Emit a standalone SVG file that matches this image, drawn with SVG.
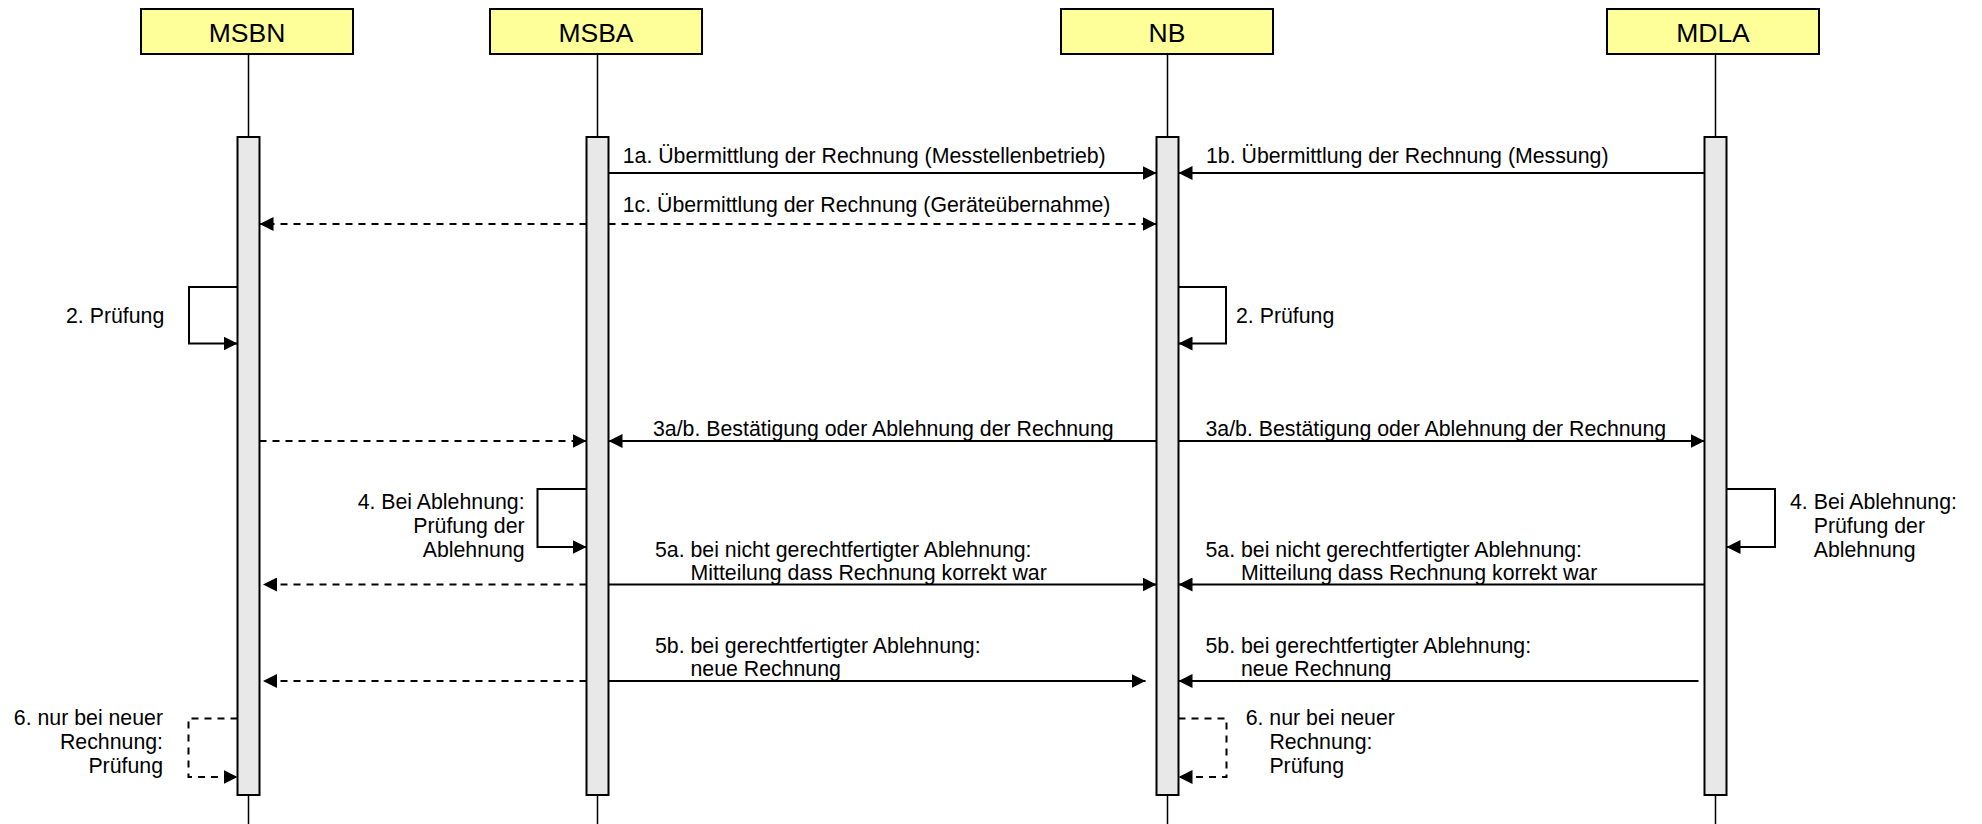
<svg xmlns="http://www.w3.org/2000/svg" width="1982" height="824" viewBox="0 0 1982 824">
<defs>
<marker id="ah" markerUnits="userSpaceOnUse" markerWidth="15" markerHeight="14" refX="14" refY="7" orient="auto">
<path d="M0,0 L14,7 L0,14 z" fill="#000"/>
</marker>
<style>
.box{fill:#ffff99;stroke:#000;stroke-width:2}
.bar{fill:#e8e8e8;stroke:#000;stroke-width:2}
.life{stroke:#000;stroke-width:1.5;fill:none}
.msg{stroke:#000;stroke-width:2;fill:none;marker-end:url(#ah)}
.dash{stroke-dasharray:7,6}
.title{font-family:"Liberation Sans",Arial,sans-serif;font-size:26.5px;text-anchor:middle;fill:#000}
.lbl{font-family:"Liberation Sans",Arial,sans-serif;font-size:21.3px;fill:#000}
.r{text-anchor:end}
</style>
</defs>
<rect width="1982" height="824" fill="#fff"/>

<g id="MSBN">
<line class="life" x1="248.5" y1="54" x2="248.5" y2="824"/>
<rect class="box" x="141" y="9" width="212" height="45"/>
<text class="title" x="247" y="42">MSBN</text>
<rect class="bar" x="237.5" y="137" width="22" height="658"/>
</g>
<g id="MSBA">
<line class="life" x1="597.5" y1="54" x2="597.5" y2="824"/>
<rect class="box" x="490" y="9" width="212" height="45"/>
<text class="title" x="596" y="42">MSBA</text>
<rect class="bar" x="586.5" y="137" width="22" height="658"/>
</g>
<g id="NB">
<line class="life" x1="1167.5" y1="54" x2="1167.5" y2="824"/>
<rect class="box" x="1061" y="9" width="212" height="45"/>
<text class="title" x="1167" y="42">NB</text>
<rect class="bar" x="1156.5" y="137" width="22" height="658"/>
</g>
<g id="MDLA">
<line class="life" x1="1715.5" y1="54" x2="1715.5" y2="824"/>
<rect class="box" x="1607" y="9" width="212" height="45"/>
<text class="title" x="1713" y="42">MDLA</text>
<rect class="bar" x="1704.5" y="137" width="22" height="658"/>
</g>

<g id="connectors">
<line class="msg" x1="608.5" y1="173" x2="1156.5" y2="173"/>
<line class="msg" x1="1704.5" y1="173" x2="1178.5" y2="173"/>
<line class="msg dash" x1="586.5" y1="224" x2="259.5" y2="224"/>
<line class="msg dash" x1="608.5" y1="224" x2="1156.5" y2="224"/>
<polyline class="msg" points="237.5,287 189,287 189,343.5 237.5,343.5"/>
<polyline class="msg" points="1178.5,287 1226,287 1226,343.5 1178.5,343.5"/>
<line class="msg dash" x1="259.5" y1="441" x2="586.5" y2="441"/>
<line class="msg" x1="1156.5" y1="441" x2="608.5" y2="441"/>
<line class="msg" x1="1178.5" y1="441" x2="1704.5" y2="441"/>
<polyline class="msg" points="586.5,489 537.5,489 537.5,547 586.5,547"/>
<polyline class="msg" points="1726.5,489 1775,489 1775,547 1726.5,547"/>
<line class="msg dash" x1="586.5" y1="584.5" x2="263" y2="584.5"/>
<line class="msg" x1="608.5" y1="584.5" x2="1156.5" y2="584.5"/>
<line class="msg" x1="1704.5" y1="584.5" x2="1178.5" y2="584.5"/>
<line class="msg dash" x1="586.5" y1="681" x2="263" y2="681"/>
<line class="msg" x1="608.5" y1="681" x2="1145.5" y2="681"/>
<line class="msg" x1="1698.5" y1="681" x2="1178.5" y2="681"/>
<polyline class="msg dash" points="237.5,718.5 188.5,718.5 188.5,777 237.5,777"/>
<polyline class="msg dash" points="1178.5,718.5 1226.5,718.5 1226.5,777 1178.5,777"/>
</g>

<g id="labels">
<text class="lbl" x="622.7" y="163">1a. Übermittlung der Rechnung (Messtellenbetrieb)</text>
<text class="lbl" x="1206" y="163">1b. Übermittlung der Rechnung (Messung)</text>
<text class="lbl" x="622.7" y="212">1c. Übermittlung der Rechnung (Geräteübernahme)</text>
<text class="lbl r" x="164.3" y="323">2. Prüfung</text>
<text class="lbl" x="1236" y="323">2. Prüfung</text>
<text class="lbl" x="653" y="436">3a/b. Bestätigung oder Ablehnung der Rechnung</text>
<text class="lbl" x="1205.5" y="436">3a/b. Bestätigung oder Ablehnung der Rechnung</text>
<text class="lbl r" x="524.6" y="509">4. Bei Ablehnung:</text>
<text class="lbl r" x="524.6" y="533">Prüfung der</text>
<text class="lbl r" x="524.6" y="557">Ablehnung</text>
<text class="lbl" x="1790" y="509">4. Bei Ablehnung:</text>
<text class="lbl" x="1813.7" y="533">Prüfung der</text>
<text class="lbl" x="1813.7" y="557">Ablehnung</text>
<text class="lbl" x="655" y="556.7">5a. bei nicht gerechtfertigter Ablehnung:</text>
<text class="lbl" x="690.5" y="580">Mitteilung dass Rechnung korrekt war</text>
<text class="lbl" x="1205.5" y="556.7">5a. bei nicht gerechtfertigter Ablehnung:</text>
<text class="lbl" x="1241" y="580">Mitteilung dass Rechnung korrekt war</text>
<text class="lbl" x="655" y="652.7">5b. bei gerechtfertigter Ablehnung:</text>
<text class="lbl" x="690.5" y="676">neue Rechnung</text>
<text class="lbl" x="1205.5" y="652.7">5b. bei gerechtfertigter Ablehnung:</text>
<text class="lbl" x="1241" y="676">neue Rechnung</text>
<text class="lbl r" x="163" y="725">6. nur bei neuer</text>
<text class="lbl r" x="163" y="749">Rechnung:</text>
<text class="lbl r" x="163" y="773">Prüfung</text>
<text class="lbl" x="1245.7" y="725">6. nur bei neuer</text>
<text class="lbl" x="1269.4" y="749">Rechnung:</text>
<text class="lbl" x="1269.4" y="773">Prüfung</text>
</g>
</svg>
